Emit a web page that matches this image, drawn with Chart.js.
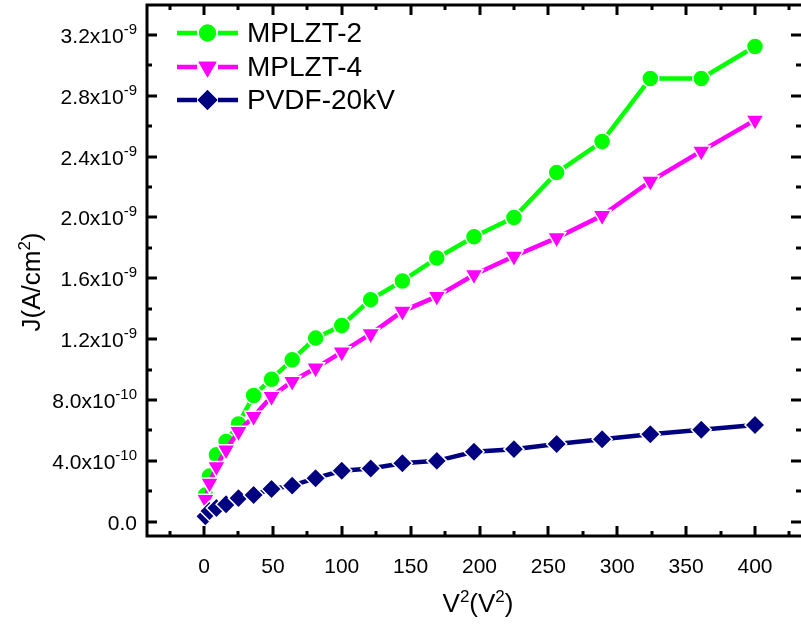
<!DOCTYPE html>
<html>
<head>
<meta charset="utf-8">
<script src="https://cdn.jsdelivr.net/npm/chart.js@4.4.1/dist/chart.umd.min.js"></script>
<style>
html,body{margin:0;padding:0;background:#fff;}
#wrap{width:801px;height:624px;position:relative;}
</style>
</head>
<body>
<div id="wrap"><canvas id="chart"></canvas></div>
<script>
// V^2 values (V = 1..20)
const xVals = [1,4,9,16,25,36,49,64,81,100,121,144,169,196,225,256,289,324,361,400];
// J in A/cm^2
const mplzt2 = [0.175e-9,0.30e-9,0.44e-9,0.527e-9,0.643e-9,0.83e-9,0.937e-9,1.065e-9,1.207e-9,1.29e-9,1.46e-9,1.583e-9,1.733e-9,1.873e-9,2.0e-9,2.295e-9,2.499e-9,2.914e-9,2.914e-9,3.124e-9];
const mplzt4 = [0.146e-9,0.253e-9,0.362e-9,0.472e-9,0.593e-9,0.691e-9,0.823e-9,0.922e-9,1.01e-9,1.115e-9,1.235e-9,1.383e-9,1.481e-9,1.624e-9,1.745e-9,1.866e-9,2.013e-9,2.238e-9,2.436e-9,2.64e-9];
const pvdf = [0.035e-9,0.07e-9,0.09e-9,0.115e-9,0.155e-9,0.176e-9,0.215e-9,0.237e-9,0.286e-9,0.335e-9,0.35e-9,0.384e-9,0.40e-9,0.46e-9,0.477e-9,0.511e-9,0.542e-9,0.575e-9,0.604e-9,0.636e-9];

const seriesNames = ['MPLZT-2','MPLZT-4','PVDF-20kV'];

const xMajor = [0,50,100,150,200,250,300,350,400];
const xMinor = [-25,25,75,125,175,225,275,325,375,425];
const yMajor = [0,0.4e-9,0.8e-9,1.2e-9,1.6e-9,2.0e-9,2.4e-9,2.8e-9,3.2e-9];
const yMinor = [0.2e-9,0.6e-9,1.0e-9,1.4e-9,1.8e-9,2.2e-9,2.6e-9,3.0e-9];
// [mantissa, exponent]
const yTickLabels = [['0.0',''],['4.0x10','-10'],['8.0x10','-10'],['1.2x10','-9'],['1.6x10','-9'],['2.0x10','-9'],['2.4x10','-9'],['2.8x10','-9'],['3.2x10','-9']];

const FONT = "'Liberation Sans', Arial, sans-serif";
const COLORS = {g:'#00FF00', m:'#FF00FF', n:'#000080'};

const STYLES = [
  {color:COLORS.g, pointStyle:'circle', radius:8.5, rotation:0},
  {color:COLORS.m, pointStyle:'triangle', radius:10.5, rotation:180},
  {color:COLORS.n, pointStyle:'rectRot', radius:10, rotation:0}
];

function pts(ys){ return xVals.map((x,i)=>({x, y:ys[i]})); }

function ds(label, data, st, order){
  return {
    label, data:pts(data), order,
    borderColor:st.color, backgroundColor:st.color,
    borderWidth:4.5,
    pointStyle:st.pointStyle, pointRadius:st.radius, pointRotation:st.rotation,
    pointBackgroundColor:st.color, pointBorderColor:'#fff', pointBorderWidth:1.5,
    tension:0
  };
}

// text with superscripts: parts = [[text, sup?], ...]
function richWidth(ctx, parts, size, supSize){
  let w = 0;
  parts.forEach(p=>{ ctx.font = (p[1]?supSize:size)+'px '+FONT; w += ctx.measureText(p[0]).width; });
  return w;
}
function drawRich(ctx, parts, x, y, size, supSize, rise){
  ctx.textBaseline = 'alphabetic';
  ctx.textAlign = 'left';
  parts.forEach(p=>{
    ctx.font = (p[1]?supSize:size)+'px '+FONT;
    ctx.fillText(p[0], x, p[1] ? y - rise : y);
    x += ctx.measureText(p[0]).width;
  });
}

const axesPlugin = {
  id:'originAxes',
  afterDatasetsDraw(chart){
    const ctx = chart.ctx, a = chart.chartArea;
    const xs = chart.scales.x, ys = chart.scales.y;
    ctx.save();
    ctx.strokeStyle = '#000'; ctx.fillStyle = '#000';
    ctx.lineWidth = 3;
    ctx.lineCap = 'butt';
    // frame
    ctx.beginPath();
    ctx.moveTo(a.right+2, a.top); ctx.lineTo(a.left, a.top);
    ctx.lineTo(a.left, a.bottom); ctx.lineTo(a.right+2, a.bottom);
    ctx.stroke();
    // ticks (inward, all four sides)
    const tick = (vals, len, isX)=>{
      vals.forEach(v=>{
        ctx.beginPath();
        if(isX){
          const p = Math.round(xs.getPixelForValue(v));
          ctx.moveTo(p, a.bottom); ctx.lineTo(p, a.bottom-len);
          ctx.moveTo(p, a.top); ctx.lineTo(p, a.top+len);
        } else {
          const p = Math.round(ys.getPixelForValue(v));
          ctx.moveTo(a.left, p); ctx.lineTo(a.left+len, p);
          ctx.moveTo(a.right, p); ctx.lineTo(a.right-len, p);
        }
        ctx.stroke();
      });
    };
    tick(xMajor, 10, true); tick(xMinor, 5, true);
    tick(yMajor, 10, false); tick(yMinor, 5, false);

    // x tick labels
    ctx.font = '21px '+FONT;
    ctx.textAlign = 'center'; ctx.textBaseline = 'middle';
    xMajor.forEach(v=>ctx.fillText(String(v), xs.getPixelForValue(v), a.bottom+31));

    // y tick labels
    yMajor.forEach((v,i)=>{
      const [mant, ex] = yTickLabels[i];
      const parts = [[mant,false]];
      if(ex) parts.push([ex,true]);
      const w = richWidth(ctx, parts, 21, 15);
      const py = ys.getPixelForValue(v);
      drawRich(ctx, parts, 137 - w, py + 8, 21, 15, 9);
    });

    // axis titles
    const xt = [['V',false],['2',true],['(V',false],['2',true],[')',false]];
    const xtw = richWidth(ctx, xt, 26, 17);
    drawRich(ctx, xt, 478 - xtw/2, 612, 26, 17, 10);

    const yt = [['J(A/cm',false],['2',true],[')',false]];
    const ytw = richWidth(ctx, yt, 26, 17);
    ctx.save();
    ctx.translate(40, 282);
    ctx.rotate(-Math.PI/2);
    drawRich(ctx, yt, -ytw/2, 0, 26, 17, 10);
    ctx.restore();

    // legend
    const rows = [33, 67, 100];
    seriesNames.forEach((name,i)=>{
      const st = STYLES[i], y = rows[i];
      ctx.strokeStyle = st.color; ctx.lineWidth = 4.5;
      ctx.beginPath();
      ctx.moveTo(177, y); ctx.lineTo(197, y);
      ctx.moveTo(218, y); ctx.lineTo(238, y);
      ctx.stroke();
      ctx.fillStyle = st.color;
      Chart.helpers.drawPoint(ctx, {pointStyle:st.pointStyle, radius:st.radius, rotation:st.rotation, borderWidth:0}, 207.5, y);
      ctx.fill();
      ctx.fillStyle = '#000';
      ctx.font = '28px '+FONT;
      ctx.textAlign = 'left'; ctx.textBaseline = 'middle';
      ctx.fillText(name, 247, y + 1);
    });
    ctx.restore();
  }
};

new Chart(document.getElementById('chart'), {
  type:'line',
  data:{
    datasets:[
      ds(seriesNames[0], mplzt2, STYLES[0], 3),
      ds(seriesNames[1], mplzt4, STYLES[1], 2),
      ds(seriesNames[2], pvdf, STYLES[2], 1)
    ]
  },
  options:{
    responsive:true,
    maintainAspectRatio:false,
    animation:false,
    layout:{autoPadding:false, padding:{left:147, top:5, right:0, bottom:88}},
    plugins:{legend:{display:false}, tooltip:{enabled:false}},
    scales:{
      x:{type:'linear', display:false, min:-41.4, max:433.4},
      y:{type:'linear', display:false, min:-0.094e-9, max:3.397e-9}
    }
  },
  plugins:[axesPlugin]
});
</script>
</body>
</html>
